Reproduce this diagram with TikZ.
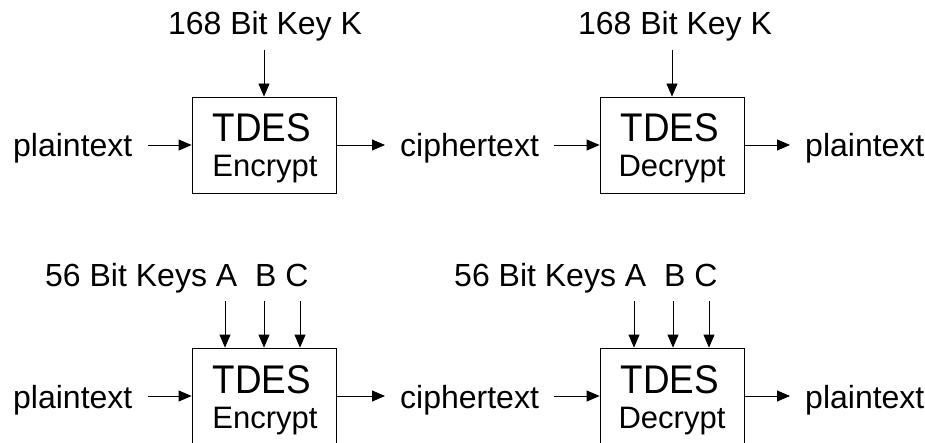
\documentclass[tikz,border=0pt]{standalone}
\usepackage{fontspec}
\setmainfont{Liberation Sans}
\usetikzlibrary{arrows.meta}
\begin{document}
\begin{tikzpicture}[x=1pt,y=-1pt,
  box/.style={draw, line width=0.8pt, minimum width=144pt, minimum height=96pt, inner sep=0pt},
  arr/.style={line width=0.8pt, -{Triangle[length=13pt,width=11pt]}},
  lbl/.style={font=\fontsize{32}{38}\selectfont, inner ysep=0pt, inner xsep=15pt},
  keylbl/.style={font=\fontsize{32}{38}\selectfont, inner sep=0pt},
  big/.style={font=\fontsize{40}{48}\selectfont, inner sep=0pt},
  sub/.style={font=\fontsize{31}{37}\selectfont, inner sep=0pt}]
\useasboundingbox (0,0) rectangle (925,443);
% ---------- top row ----------
\node[box] (b1) at (264,145) {};
\node[big, anchor=base] (t1) at (262,142) {\scalebox{0.92}[1]{TDES}};
\node[sub, anchor=base] (e1) at (265,177) {Encrypt};
\node[box] (b2) at (672,145) {};
\node[big, anchor=base] (t2) at (670,142) {\scalebox{0.92}[1]{TDES}};
\node[sub, anchor=base] (d2) at (672,177) {Decrypt};
\node[lbl, anchor=base west] (p1) at (-2,157) {plaintext};
\node[lbl, anchor=base west] (c1) at (385,157) {ciphertext};
\node[lbl, anchor=base west] (q1) at (790,157) {plaintext};
\draw[arr] (b1.west -| p1.east) -- (b1.west);
\draw[arr] (b1.east) -- (b1.east -| c1.west);
\draw[arr] (b2.west -| c1.east) -- (b2.west);
\draw[arr] (b2.east) -- (b2.east -| q1.west);
\node[keylbl, anchor=base] (k1) at (265,35) {168 Bit Key K};
\node[keylbl, anchor=base] (k2) at (675,35) {168 Bit Key K};
\coordinate (ka) at (264,50);
\coordinate (kb) at (672,50);
\draw[arr] (ka) -- (b1.north);
\draw[arr] (kb) -- (b2.north);
% ---------- bottom row ----------
\node[box] (b3) at (264,396) {};
\node[big, anchor=base] (t3) at (262,393) {\scalebox{0.92}[1]{TDES}};
\node[sub, anchor=base] (e3) at (265,428) {Encrypt};
\node[box] (b4) at (672,396) {};
\node[big, anchor=base] (t4) at (670,393) {\scalebox{0.92}[1]{TDES}};
\node[sub, anchor=base] (d4) at (672,428) {Decrypt};
\node[lbl, anchor=base west] (p3) at (-2,408) {plaintext};
\node[lbl, anchor=base west] (c3) at (385,408) {ciphertext};
\node[lbl, anchor=base west] (q3) at (790,408) {plaintext};
\draw[arr] (b3.west -| p3.east) -- (b3.west);
\draw[arr] (b3.east) -- (b3.east -| c3.west);
\draw[arr] (b4.west -| c3.east) -- (b4.west);
\draw[arr] (b4.east) -- (b4.east -| q3.west);
\node[keylbl, anchor=base west] (k3) at (45,287) {56 Bit Keys A\ \ B C};
\node[keylbl, anchor=base west] (k4) at (454,287) {56 Bit Keys A\ \ B C};
\coordinate (a3) at (225,301);
\coordinate (bb3) at (264,301);
\coordinate (c3k) at (300,301);
\coordinate (a4) at (634,301);
\coordinate (bb4) at (673,301);
\coordinate (c4k) at (709,301);
\draw[arr] (a3) -- (a3 |- b3.north);
\draw[arr] (bb3) -- (bb3 |- b3.north);
\draw[arr] (c3k) -- (c3k |- b3.north);
\draw[arr] (a4) -- (a4 |- b4.north);
\draw[arr] (bb4) -- (bb4 |- b4.north);
\draw[arr] (c4k) -- (c4k |- b4.north);
\end{tikzpicture}
\end{document}
